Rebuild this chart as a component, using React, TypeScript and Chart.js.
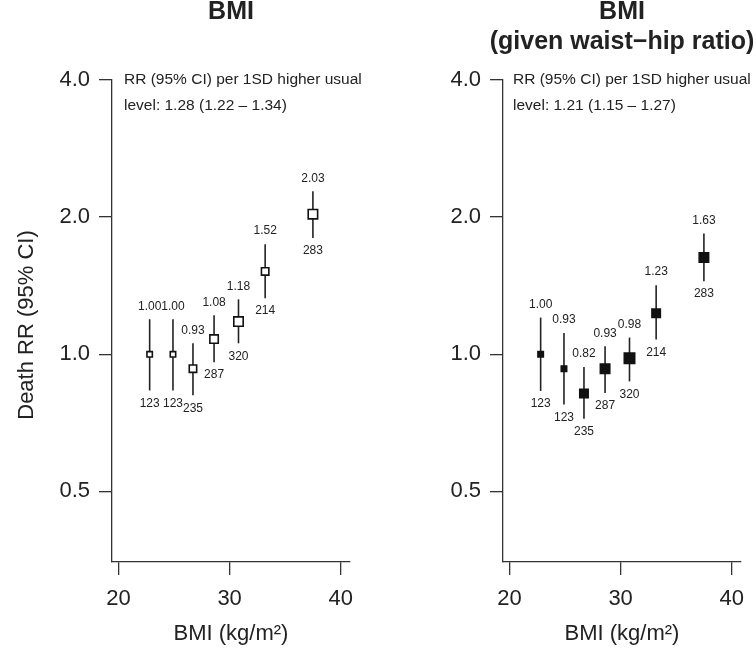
import React, { useEffect, useRef } from "react";
import { Chart, registerables } from "chart.js";

Chart.register(...registerables);

// ---- data ----
const bmiMid = [22.8, 24.9, 26.7, 28.6, 30.8, 33.2, 37.5];
const deaths = [123, 123, 235, 287, 320, 214, 283];

const rrBmi = [1.0, 1.0, 0.93, 1.08, 1.18, 1.52, 2.03];
const loBmi = [0.833, 0.833, 0.813, 0.961, 1.057, 1.328, 1.8];
const hiBmi = [1.194, 1.194, 1.057, 1.218, 1.32, 1.745, 2.28];

const rrAdj = [1.0, 0.93, 0.82, 0.93, 0.98, 1.23, 1.63];
const loAdj = [0.831, 0.776, 0.722, 0.822, 0.872, 1.077, 1.447];
const hiAdj = [1.204, 1.114, 0.938, 1.041, 1.088, 1.418, 1.842];

const yTickValues = [0.5, 1, 2, 4];
const xTickValues = [20, 30, 40];

const titleBmi = ["BMI"];
const titleAdj = ["BMI", "(given waist\u2212hip ratio)"];
const noteBmi = ["RR (95% CI) per 1SD higher usual", "level: 1.28 (1.22 \u2013 1.34)"];
const noteAdj = ["RR (95% CI) per 1SD higher usual", "level: 1.21 (1.15 \u2013 1.27)"];
const yTitle = "Death RR (95% CI)";
const xTitle = "BMI (kg/m\u00B2)";

// square sizes (style: reflect precision)
const sideBmi = [7, 7, 9, 10, 11, 9, 11];
const sideAdj = [7, 7, 10, 11, 12, 10, 11];

const FONT = "'Liberation Sans', Arial, Helvetica, sans-serif";
const INK = "#222";

type Spec = {
  key: string;
  rr: number[];
  lo: number[];
  hi: number[];
  side: number[];
  fill: string;
  title: string[];
  note: string[];
  noteDx: number;
  yAxisWidth: number;
  padRight: number;
  showYTitle: boolean;
};

function overlay(spec: Spec) {
  return {
    id: "overlay_" + spec.key,
    beforeDatasetsDraw(chart: any) {
      const { ctx, scales } = chart;
      const x = scales.x;
      const y = scales.y;
      ctx.save();
      ctx.strokeStyle = INK;
      ctx.lineWidth = 1.6;
      bmiMid.forEach((b, i) => {
        const px = x.getPixelForValue(b);
        ctx.beginPath();
        ctx.moveTo(px, y.getPixelForValue(spec.hi[i]));
        ctx.lineTo(px, y.getPixelForValue(spec.lo[i]));
        ctx.stroke();
      });
      ctx.restore();
    },
    afterDraw(chart: any) {
      const { ctx, scales, chartArea } = chart;
      const x = scales.x;
      const y = scales.y;
      ctx.save();
      ctx.fillStyle = INK;
      // point labels
      ctx.font = `12px ${FONT}`;
      ctx.textAlign = "center";
      ctx.textBaseline = "middle";
      bmiMid.forEach((b, i) => {
        const px = x.getPixelForValue(b);
        ctx.fillText(spec.rr[i].toFixed(2), px, y.getPixelForValue(spec.hi[i]) - 13);
        ctx.fillText(String(deaths[i]), px, y.getPixelForValue(spec.lo[i]) + 13);
      });
      // title
      const cx = (chartArea.left + chartArea.right) / 2;
      ctx.font = `bold 25px ${FONT}`;
      ctx.textBaseline = "alphabetic";
      spec.title.forEach((t, i) => ctx.fillText(t, cx, 19 + i * 30));
      // note
      ctx.font = `15.5px ${FONT}`;
      ctx.textAlign = "left";
      ctx.textBaseline = "middle";
      spec.note.forEach((t, i) =>
        ctx.fillText(t, chartArea.left + spec.noteDx, chartArea.top + i * 26)
      );
      // x title
      ctx.font = `22px ${FONT}`;
      ctx.textAlign = "center";
      ctx.textBaseline = "alphabetic";
      ctx.fillText(xTitle, cx, 640);
      // y title
      if (spec.showYTitle) {
        ctx.save();
        ctx.translate(27, (chartArea.top + chartArea.bottom) / 2 + 4);
        ctx.rotate(-Math.PI / 2);
        ctx.textBaseline = "middle";
        ctx.fillText(yTitle, 0, 0);
        ctx.restore();
      }
      ctx.restore();
    },
  };
}

function makeConfig(spec: Spec): any {
  return {
    type: "scatter",
    data: {
      datasets: [
        {
          data: bmiMid.map((b, i) => ({ x: b, y: spec.rr[i] })),
          pointStyle: "rect",
          pointRadius: spec.side.map((s) => (s - 1.6) / Math.SQRT2),
          pointHoverRadius: spec.side.map((s) => (s - 1.6) / Math.SQRT2),
          pointBackgroundColor: spec.fill,
          pointBorderColor: "#111",
          pointBorderWidth: 1.6,
          showLine: false,
        },
      ],
    },
    options: {
      responsive: false,
      animation: false,
      events: [],
      layout: { padding: { left: 0, right: spec.padRight, top: 80, bottom: 0 } },
      plugins: {
        legend: { display: false },
        tooltip: { enabled: false },
        title: { display: false },
      },
      scales: {
        x: {
          type: "linear",
          min: 19.41,
          max: 40.84,
          afterBuildTicks: (s: any) => {
            s.ticks = xTickValues.map((v) => ({ value: v }));
          },
          afterFit: (s: any) => {
            s.height = 87;
          },
          grid: {
            drawOnChartArea: false,
            drawTicks: true,
            tickLength: 13,
            color: "#333",
            lineWidth: 1.3,
          },
          border: { display: true, color: "#333", width: 1.3 },
          ticks: {
            font: { size: 22, family: FONT },
            color: INK,
            padding: 11,
            maxRotation: 0,
            autoSkip: false,
            callback: (v: any) => String(v),
          },
        },
        y: {
          type: "logarithmic",
          min: 0.35,
          max: 4,
          afterBuildTicks: (s: any) => {
            s.ticks = yTickValues.map((v) => ({ value: v }));
          },
          afterFit: (s: any) => {
            s.width = spec.yAxisWidth;
          },
          grid: {
            drawOnChartArea: false,
            drawTicks: true,
            tickLength: 13,
            color: "#333",
            lineWidth: 1.3,
          },
          border: { display: true, color: "#333", width: 1.3 },
          ticks: {
            font: { size: 22, family: FONT },
            color: INK,
            padding: 9,
            autoSkip: false,
            callback: (v: any) => Number(v).toFixed(1),
          },
        },
      },
    },
    plugins: [overlay(spec)],
  };
}

function Panel({ spec, left, width }: { spec: Spec; left: number; width: number }) {
  const ref = useRef<HTMLCanvasElement>(null);
  useEffect(() => {
    const chart = new Chart(ref.current as HTMLCanvasElement, makeConfig(spec));
    return () => chart.destroy();
  }, []);
  return (
    <canvas
      ref={ref}
      width={width}
      height={649}
      style={{ position: "absolute", left, top: 0, width, height: 649 }}
    />
  );
}

const specBmi: Spec = {
  key: "bmi",
  rr: rrBmi,
  lo: loBmi,
  hi: hiBmi,
  side: sideBmi,
  fill: "#ffffff",
  title: titleBmi,
  note: noteBmi,
  noteDx: 12,
  yAxisWidth: 112,
  padRight: 28,
  showYTitle: true,
};

const specAdj: Spec = {
  key: "adj",
  rr: rrAdj,
  lo: loAdj,
  hi: hiAdj,
  side: sideAdj,
  fill: "#111111",
  title: titleAdj,
  note: noteAdj,
  noteDx: 10,
  yAxisWidth: 125,
  padRight: 15,
  showYTitle: false,
};

export default function App() {
  return (
    <div
      style={{
        position: "absolute",
        left: 0,
        top: 0,
        width: 756,
        height: 649,
        background: "#fff",
        overflow: "hidden",
      }}
    >
      <Panel spec={specBmi} left={0} width={378} />
      <Panel spec={specAdj} left={378} width={378} />
    </div>
  );
}
